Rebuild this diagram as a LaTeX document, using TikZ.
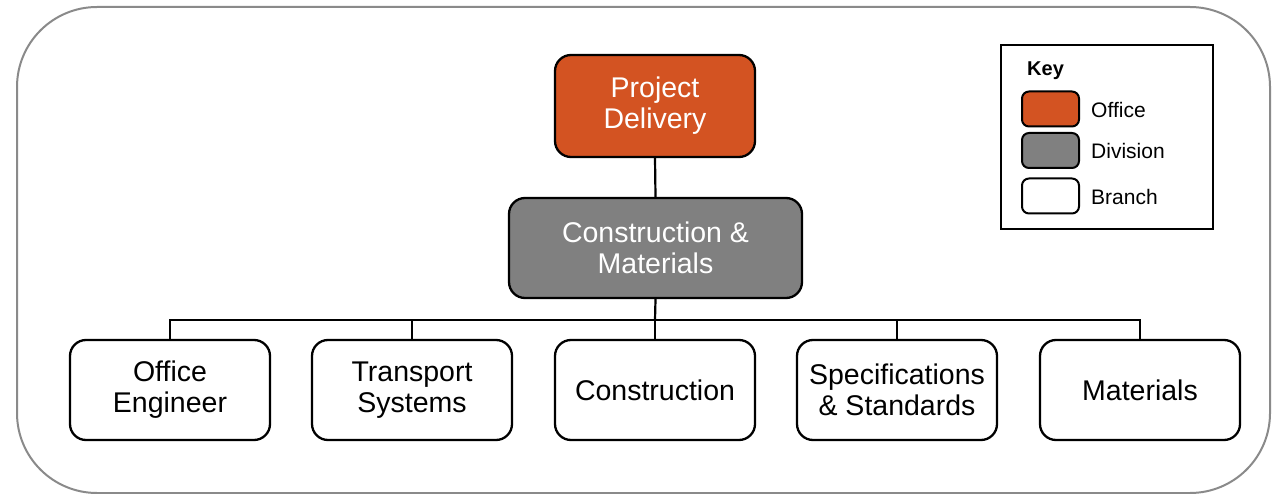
\documentclass[tikz,border=0pt]{standalone}
\usepackage{fontspec}
\setmainfont{Liberation Sans}
\definecolor{officeC}{HTML}{D35322}
\definecolor{divisionC}{HTML}{808080}
\definecolor{frameC}{HTML}{8A8A8A}
\begin{document}
\begin{tikzpicture}[x=1pt,y=-1pt,
  box/.style={draw=black, line width=2.3pt, rounded corners=16pt, minimum width=200pt, minimum height=100pt, align=center, inner sep=0pt, font=\fontsize{28.5}{31}\selectfont},
  officebox/.style={box, fill=officeC, text=white},
  divisionbox/.style={box, fill=divisionC, text=white},
  branchbox/.style={box, fill=white, text=black},
  keyswatch/.style={draw=black, line width=2pt, rounded corners=7pt, minimum width=57pt, minimum height=35pt, inner sep=0pt},
  keytext/.style={anchor=west, inner sep=0pt, font=\fontsize{21}{24}\selectfont},
  link/.style={draw=black, line width=2.2pt}
]
\useasboundingbox (0,0) rectangle (1281,494);
% outer frame
\draw[frameC, line width=2pt, rounded corners=80pt] (17,7) rectangle (1270,493);

% nodes
\node[officebox, minimum height=102pt] (pd) at (655,106) {Project\\Delivery};
\node[divisionbox, minimum width=293pt] (cm) at (655.5,248) {Construction \&\\Materials};
\node[branchbox] (oe) at (170,390) {Office\\Engineer};
\node[branchbox] (ts) at (412,390) {Transport\\Systems};
\node[branchbox] (co) at (655,390) {Construction};
\node[branchbox] (ss) at (897,390) {Specifications\\\& Standards};
\node[branchbox] (ma) at (1140,390) {Materials};

% connectors
\coordinate (bus) at (655,320);
\draw[link] (pd.south) -- (cm.north);
\draw[link] (cm.south) -- (bus);
\draw[link] (bus) -| (oe.north);
\draw[link] (bus) -| (ts.north);
\draw[link] (bus) -- (co.north);
\draw[link] (bus) -| (ss.north);
\draw[link] (bus) -| (ma.north);

% key
\node[draw=black, line width=1.5pt, minimum width=212pt, minimum height=184pt, inner sep=0pt] (key) at (1107,137) {};
\node[keytext, font=\fontsize{20}{24}\selectfont\bfseries] (keytitle) at (1027,71) {Key};
\node[keyswatch, fill=officeC] (kOffice) at (1050.5,109) {};
\node[keyswatch, fill=divisionC] (kDivision) at (1050.5,150.5) {};
\node[keyswatch, fill=white] (kBranch) at (1050.5,196) {};
\node[keytext] (tOffice) at (1091,110) {Office};
\node[keytext] (tDivision) at (1091,151) {Division};
\node[keytext] (tBranch) at (1091,196.5) {Branch};
\end{tikzpicture}
\end{document}
